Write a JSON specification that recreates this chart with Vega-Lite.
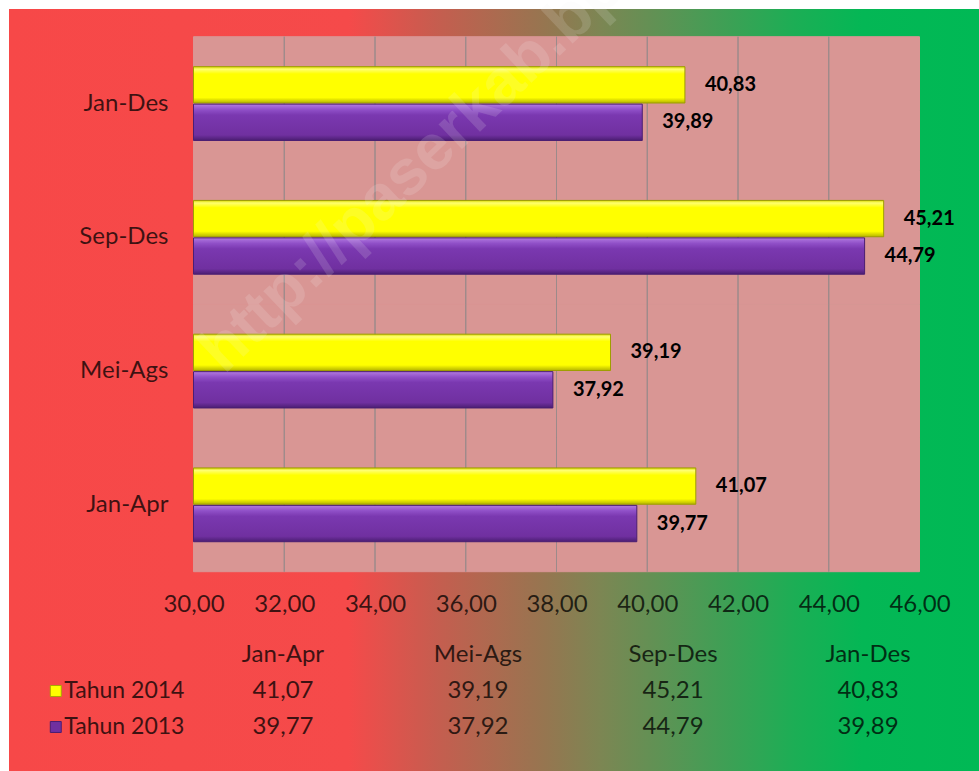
{
  "$schema": "https://vega.github.io/schema/vega-lite/v6.json",
  "width": 970,
  "height": 762,
  "autosize": {"type": "none"},
  "padding": {"left": 9, "top": 9, "right": 0, "bottom": 0},
  "background": "#ffffff",
  "config": {
    "font": "Lato",
    "view": {
      "stroke": null,
      "fill": {
        "gradient": "linear", "x1": 0, "y1": 0, "x2": 1, "y2": 0,
        "stops": [
          {"offset": 0, "color": "#F74848"},
          {"offset": 0.35, "color": "#F54A4A"},
          {"offset": 0.44, "color": "#C65D4F"},
          {"offset": 0.55, "color": "#977550"},
          {"offset": 0.61, "color": "#7C8653"},
          {"offset": 0.71, "color": "#4C9A55"},
          {"offset": 0.81, "color": "#1CAE55"},
          {"offset": 0.88, "color": "#04B755"},
          {"offset": 1, "color": "#00B955"}
        ]
      }
    },
    "locale": {
      "number": {"decimal": ",", "thousands": ".", "grouping": [3], "currency": ["Rp", ""]}
    }
  },
  "datasets": {
    "main": [
      {"periode": "Jan-Apr", "tahun": "Tahun 2014", "nilai": 41.07},
      {"periode": "Mei-Ags", "tahun": "Tahun 2014", "nilai": 39.19},
      {"periode": "Sep-Des", "tahun": "Tahun 2014", "nilai": 45.21},
      {"periode": "Jan-Des", "tahun": "Tahun 2014", "nilai": 40.83},
      {"periode": "Jan-Apr", "tahun": "Tahun 2013", "nilai": 39.77},
      {"periode": "Mei-Ags", "tahun": "Tahun 2013", "nilai": 37.92},
      {"periode": "Sep-Des", "tahun": "Tahun 2013", "nilai": 44.79},
      {"periode": "Jan-Des", "tahun": "Tahun 2013", "nilai": 39.89}
    ],
    "grid": [
      {"periode": "Jan-Des", "g": 32}, {"periode": "Jan-Des", "g": 34}, {"periode": "Jan-Des", "g": 36},
      {"periode": "Jan-Des", "g": 38}, {"periode": "Jan-Des", "g": 40}, {"periode": "Jan-Des", "g": 42},
      {"periode": "Jan-Des", "g": 44},
      {"periode": "Sep-Des", "g": 32}, {"periode": "Sep-Des", "g": 34}, {"periode": "Sep-Des", "g": 36},
      {"periode": "Sep-Des", "g": 38}, {"periode": "Sep-Des", "g": 40}, {"periode": "Sep-Des", "g": 42},
      {"periode": "Sep-Des", "g": 44},
      {"periode": "Mei-Ags", "g": 32}, {"periode": "Mei-Ags", "g": 34}, {"periode": "Mei-Ags", "g": 36},
      {"periode": "Mei-Ags", "g": 38}, {"periode": "Mei-Ags", "g": 40}, {"periode": "Mei-Ags", "g": 42},
      {"periode": "Mei-Ags", "g": 44},
      {"periode": "Jan-Apr", "g": 32}, {"periode": "Jan-Apr", "g": 34}, {"periode": "Jan-Apr", "g": 36},
      {"periode": "Jan-Apr", "g": 38}, {"periode": "Jan-Apr", "g": 40}, {"periode": "Jan-Apr", "g": 42},
      {"periode": "Jan-Apr", "g": 44}
    ],
    "watermark": [
      {"teks": "http://paserkab.bps.go.id"}
    ]
  },
  "data": {"name": "main"},
  "layer": [
    {
      "encoding": {
        "y": {
          "field": "periode", "type": "nominal",
          "scale": {"type": "band", "domain": ["Jan-Des", "Sep-Des", "Mei-Ags", "Jan-Apr"], "paddingInner": 0, "paddingOuter": 0.8486, "align": 0.122},
          "axis": {"title": null, "orient": "left", "offset": -159, "domain": false, "ticks": false, "tickSize": 0, "labelPadding": 0, "labelFontSize": 24, "labelColor": "#000000", "labelOpacity": 0.75, "labelFont": "Lato", "grid": false}
        }
      },
      "layer": [
        {
          "transform": [{"filter": "datum.tahun == 'Tahun 2014'"}],
          "mark": {"type": "rect", "fill": "#D99694", "stroke": "#D99694", "strokeWidth": 1},
          "encoding": {
            "x": {"datum": 30, "type": "quantitative", "scale": {"domain": [25.934, 47.311], "nice": false, "zero": false}, "axis": {"title": null, "orient": "bottom", "values": [30, 32, 34, 36, 38, 40, 42, 44, 46], "format": ".2f", "offset": -179, "domain": false, "ticks": false, "tickSize": 0, "labelPadding": 0, "labelFontSize": 24, "labelColor": "#000000", "labelOpacity": 0.75, "labelFlush": false, "labelOverlap": false, "grid": false, "labelBaseline": "top"}},
            "x2": {"datum": 46}
          }
        },
        {
          "data": {"name": "grid"},
          "mark": {"type": "rect", "fill": null, "stroke": "#9C8A8A", "strokeWidth": 1},
          "encoding": {
            "x": {"field": "g", "type": "quantitative", "scale": {"domain": [25.934, 47.311], "nice": false, "zero": false}},
            "x2": {"field": "g"}
          }
        },
        {
          "transform": [{"filter": "datum.tahun == 'Tahun 2014'"}],
          "mark": {
            "type": "bar", "stroke": "#9E9E00", "strokeWidth": 1,
            "fill": {"gradient": "linear", "x1": 0, "y1": 0, "x2": 0, "y2": 1,
              "stops": [
                {"offset": 0, "color": "#D9D900"},
                {"offset": 0.07, "color": "#FFFF70"},
                {"offset": 0.2, "color": "#FFFF00"},
                {"offset": 0.85, "color": "#FFFF00"},
                {"offset": 1, "color": "#B5B500"}
              ]}
          },
          "encoding": {
            "x": {"field": "nilai", "type": "quantitative", "scale": {"domain": [25.934, 47.311], "nice": false, "zero": false}},
            "x2": {"datum": 30},
            "yOffset": {"field": "tahun", "type": "nominal", "scale": {"domain": ["Tahun 2014", "Tahun 2013"], "paddingInner": 0.03, "paddingOuter": 0.8}}
          }
        },
        {
          "transform": [{"filter": "datum.tahun == 'Tahun 2013'"}],
          "mark": {
            "type": "bar", "stroke": "#4B1E72", "strokeWidth": 1,
            "fill": {"gradient": "linear", "x1": 0, "y1": 0, "x2": 0, "y2": 1,
              "stops": [
                {"offset": 0, "color": "#B27AE0"},
                {"offset": 0.15, "color": "#9050C8"},
                {"offset": 0.3, "color": "#7A38B0"},
                {"offset": 0.85, "color": "#7030A0"},
                {"offset": 1, "color": "#4B1E72"}
              ]}
          },
          "encoding": {
            "x": {"field": "nilai", "type": "quantitative", "scale": {"domain": [25.934, 47.311], "nice": false, "zero": false}},
            "x2": {"datum": 30},
            "yOffset": {"field": "tahun", "type": "nominal", "scale": {"domain": ["Tahun 2014", "Tahun 2013"], "paddingInner": 0.03, "paddingOuter": 0.8}}
          }
        },
        {
          "mark": {"type": "text", "align": "left", "baseline": "middle", "dx": 20, "fontSize": 20, "fontWeight": "bold", "fill": "#000000"},
          "encoding": {
            "x": {"field": "nilai", "type": "quantitative", "scale": {"domain": [25.934, 47.311], "nice": false, "zero": false}},
            "yOffset": {"field": "tahun", "type": "nominal", "scale": {"domain": ["Tahun 2014", "Tahun 2013"], "paddingInner": 0.03, "paddingOuter": 0.8}},
            "text": {"field": "nilai", "type": "quantitative", "format": ".2f"}
          }
        },
        {
          "data": {"name": "watermark"},
          "mark": {"type": "text", "align": "left", "baseline": "alphabetic", "angle": -43.6, "font": "Liberation Sans", "fontSize": 64, "fontWeight": "bold", "fill": "#F4F4F4", "opacity": 0.15, "clip": false},
          "encoding": {
            "x": {"datum": 30.68, "type": "quantitative", "scale": {"domain": [25.934, 47.311], "nice": false, "zero": false}},
            "y": {"datum": "Mei-Ags", "type": "nominal", "bandPosition": 0.53},
            "text": {"field": "teks"}
          }
        }
      ]
    },
    {
      "layer": [
        {
          "transform": [{"filter": "datum.tahun == 'Tahun 2014'"}],
          "mark": {"type": "text", "align": "center", "baseline": "middle", "fontSize": 24, "fill": "#000000", "opacity": 0.75},
          "encoding": {
            "x": {"field": "periode", "type": "nominal", "scale": {"type": "band", "domain": ["Jan-Apr", "Mei-Ags", "Sep-Des", "Jan-Des"], "paddingInner": 0, "paddingOuter": 0.487, "align": 0.929}, "axis": null},
            "y": {"datum": "hdr", "type": "nominal", "scale": {"type": "band", "domain": ["hdr", "Tahun 2014", "Tahun 2013"], "range": [628, 736], "paddingInner": 0, "paddingOuter": 0}, "axis": null},
            "text": {"field": "periode"}
          }
        },
        {
          "mark": {"type": "text", "align": "center", "baseline": "middle", "fontSize": 24, "fill": "#000000", "opacity": 0.75},
          "encoding": {
            "x": {"field": "periode", "type": "nominal", "scale": {"type": "band", "domain": ["Jan-Apr", "Mei-Ags", "Sep-Des", "Jan-Des"], "paddingInner": 0, "paddingOuter": 0.487, "align": 0.929}, "axis": null},
            "y": {"field": "tahun", "type": "nominal", "scale": {"type": "band", "domain": ["hdr", "Tahun 2014", "Tahun 2013"], "range": [628, 736], "paddingInner": 0, "paddingOuter": 0}, "axis": null},
            "text": {"field": "nilai", "type": "quantitative", "format": ".2f"}
          }
        },
        {
          "transform": [{"filter": "datum.periode == 'Jan-Apr'"}],
          "mark": {"type": "text", "align": "right", "baseline": "middle", "dx": -1, "fontSize": 23, "fill": "#000000", "opacity": 0.75},
          "encoding": {
            "x": {"field": "periode", "type": "nominal", "bandPosition": 0, "scale": {"type": "band", "domain": ["Jan-Apr", "Mei-Ags", "Sep-Des", "Jan-Des"], "paddingInner": 0, "paddingOuter": 0.487, "align": 0.929}, "axis": null},
            "y": {"field": "tahun", "type": "nominal", "scale": {"type": "band", "domain": ["hdr", "Tahun 2014", "Tahun 2013"], "range": [628, 736], "paddingInner": 0, "paddingOuter": 0}, "axis": null},
            "text": {"field": "tahun"}
          }
        },
        {
          "transform": [{"filter": "datum.periode == 'Jan-Apr'"}],
          "mark": {"type": "point", "shape": "square", "filled": true, "size": 120, "strokeWidth": 1, "opacity": 1},
          "encoding": {
            "x": {"field": "periode", "type": "nominal", "bandPosition": -0.665, "scale": {"type": "band", "domain": ["Jan-Apr", "Mei-Ags", "Sep-Des", "Jan-Des"], "paddingInner": 0, "paddingOuter": 0.487, "align": 0.929}, "axis": null},
            "y": {"field": "tahun", "type": "nominal", "scale": {"type": "band", "domain": ["hdr", "Tahun 2014", "Tahun 2013"], "range": [628, 736], "paddingInner": 0, "paddingOuter": 0}, "axis": null},
            "color": {"field": "tahun", "type": "nominal", "scale": {"domain": ["Tahun 2014", "Tahun 2013"], "range": ["#FFFF00", "#7030A0"]}, "legend": null},
            "stroke": {"field": "tahun", "type": "nominal", "scale": {"domain": ["Tahun 2014", "Tahun 2013"], "range": ["#A8A800", "#4B1E72"]}, "legend": null}
          }
        }
      ]
    }
  ],
  "resolve": {"scale": {"x": "independent", "y": "independent", "color": "independent", "stroke": "independent"}, "axis": {"x": "independent", "y": "independent"}}
}
